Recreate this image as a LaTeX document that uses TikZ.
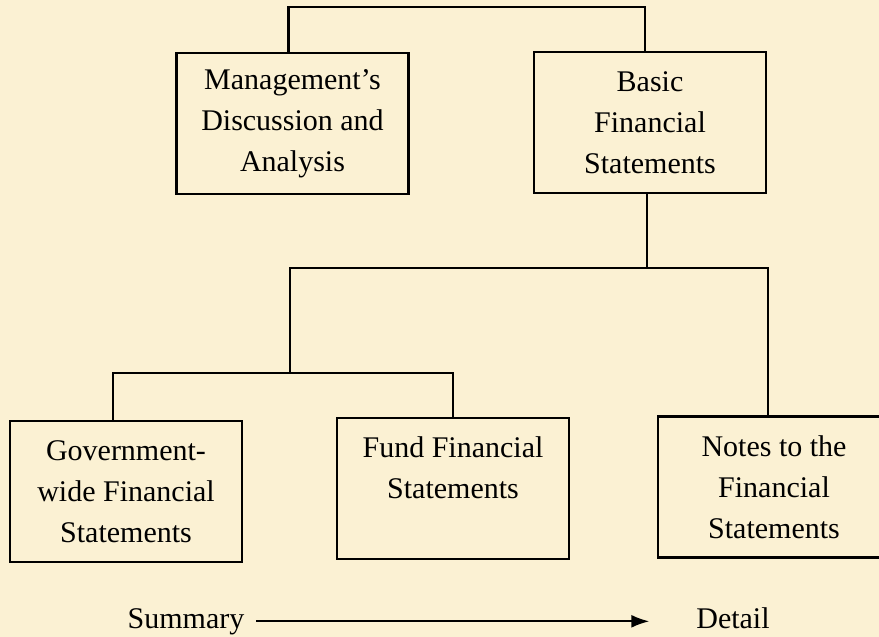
\documentclass[tikz,border=0pt]{standalone}
\usepackage{fontspec}
\setmainfont{Liberation Serif}
\usepackage{tikz}
\usetikzlibrary{arrows.meta}
\usetikzlibrary{calc}
\definecolor{paper}{RGB}{251,241,211}

\begin{document}
\begin{tikzpicture}
	[x=1pt,y=-1pt,line width=2.2pt,
	every node/.style={font=\fontsize{30}{41}\selectfont,align=center,inner sep=0pt},
	box/.style={draw,line width=2.2pt,minimum width=232pt,minimum height=141pt}]
	\fill[paper] (0,0) rectangle (879,637);
	\useasboundingbox (0,0) rectangle (879,637);
	\node[box] (mda) at (292.5,123.5) {Management's\\Discussion and\\Analysis};
	\node[box] (bfs) at (650,122.5) {Basic\\Financial\\Statements};
	\node[box] (gwfs) at (126,491.5) {Government-\\wide Financial\\Statements};
	\node[box] (ffs) at (453,488.5) {Fund Financial\\Statements\\\mbox{}};
	\node[box] (notes) at (774,487) {Notes to the\\Financial\\Statements};
	\node[anchor=base] (sum) at (186,628) {Summary};
	\node[anchor=base] (det) at (733,628) {Detail};
	
	\coordinate (fork) at (290,373);
	\draw ([xshift=-4pt]mda.north) -- ++(0,-45) -| ([xshift=-5pt]bfs.north);
	\draw ([xshift=-3pt]bfs.south) -- ++(0,74) coordinate (split);
	\draw (split) -| ([xshift=-6pt]notes.north);
	\draw (split) -| (fork);
	\draw ([xshift=-13pt]gwfs.north) |- (fork) -| (ffs.north);
	\draw[line width=1.8pt,-{Latex[length=18pt,width=13pt]}] ($(sum.east)+(11,0)$) -- ($(det.west |- sum.east)+(-46,0)$);
\end{tikzpicture}
\end{document}
